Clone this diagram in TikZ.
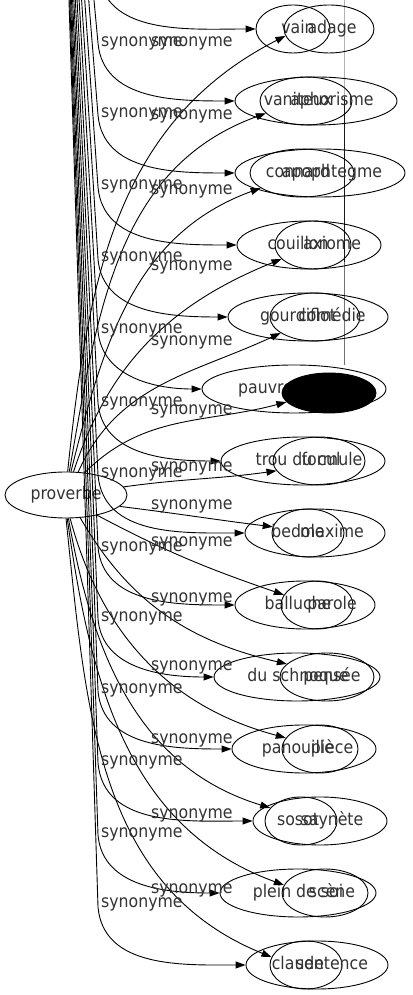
\documentclass[tikz,border=0pt]{standalone}
\usepackage{fontspec}
\setmainfont{DejaVu Sans Condensed}
\usetikzlibrary{shapes.geometric,arrows.meta}
\tikzset{
  word/.style={shape=ellipse,draw=black,line width=0.9pt,inner sep=0pt,minimum height=48pt},
  syn/.style={draw=black,line width=0.9pt,-{Triangle[length=10pt,width=7pt]}},
  lab/.style={anchor=west,inner sep=0pt,text=black!80,text height=13pt,text depth=4pt},
  every label/.style={inner sep=0pt,text=black!80,text height=13pt,text depth=4pt},
}
\begin{document}
\begin{tikzpicture}[x=1pt,y=1pt,font=\fontsize{17.5pt}{21pt}\selectfont]
\clip (0,0) rectangle (412,995);
\fill[white] (0,0) rectangle (412,995);
\draw[black!30] (344,995) -- (344,898);
\draw[black!90] (344,898) -- (344,733);
\draw[black!55] (344,733) -- (344,630);

\node[word,minimum width=122pt,minimum height=46pt,text=black!80,text height=13pt,text depth=4pt] (proverbe) at (66,500) {proverbe};

% first column
\node[word,minimum width=74pt,label={[xshift=5pt]center:vain}] (vain) at (293,966) {};
\node[word,minimum width=92pt,label={[xshift=-8pt]center:vaniteux}] (vaniteux) at (306,894) {};
\node[word,minimum width=104pt,label={[xshift=-4pt]center:connard}] (connard) at (302,822) {};
\node[word,minimum width=144pt,label={[xshift=-11pt]center:couillon}] (couillon) at (309,750) {};
\node[word,minimum width=160pt,label={[xshift=-10pt]center:gourdiflot}] (gourdiflot) at (308,678) {};
\node[word,minimum width=184pt,label={[xshift=4pt]center:pauvre d'esprit}] (pauvre) at (294,606) {};
\node[word,minimum width=164pt,label={[xshift=-5pt]center:trou du cul}] (troucul) at (303,534) {};
\node[word,minimum width=72pt,label={[xshift=-10pt]center:bedole}] (bedole) at (308,462) {};
\node[word,minimum width=140pt,label={[xshift=-7pt]center:balluche}] (balluche) at (305,390) {};
\node[word,minimum width=166pt,label={[xshift=1pt]center:du schnoque}] (schnoque) at (297,318) {};
\node[word,minimum width=144pt,label={[xshift=-6pt]center:panouille}] (panouille) at (304,246) {};
\node[word,minimum width=72pt,label={[xshift=-3pt]center:sosot}] (sosot) at (301,174) {};
\node[word,minimum width=156pt,label={center:plein de soi}] (pleinsoi) at (298,102) {};
\node[word,minimum width=72pt,label={[xshift=-8pt]center:claude}] (claude) at (306,30) {};

% second column
\node[word,minimum width=90pt,label={[xshift=3pt]center:adage}] (adage) at (329,966) {};
\node[word,minimum width=162pt,label={[xshift=16pt]center:aphorisme}] (aphorisme) at (316,894) {};
\node[word,minimum width=170pt,label={[xshift=12pt]center:apophtegme}] (apophtegme) at (320,822) {};
\node[word,minimum width=76pt,label={[xshift=19pt]center:axiome}] (axiome) at (313,750) {};
\node[word,minimum width=90pt,label={[xshift=17pt]center:comédie}] (comedie) at (315,678) {};
\node[word,fill=black,minimum width=94pt,minimum height=40pt] (dicton) at (329,602) {};
\node[word,minimum width=92pt,label={[xshift=13pt]center:formule}] (formule) at (319,534) {};
\node[word,minimum width=140pt,label={[xshift=17pt]center:maxime}] (maxime) at (315,462) {};
\node[word,minimum width=72pt,label={[xshift=15pt]center:parole}] (parole) at (317,390) {};
\node[word,minimum width=94pt,label={[xshift=5pt]center:pensée}] (pensee) at (327,318) {};
\node[word,minimum width=76pt,label={[xshift=12pt]center:pièce}] (piece) at (320,246) {};
\node[word,minimum width=134pt,label={[xshift=12pt]center:saynète}] (saynete) at (320,174) {};
\node[word,minimum width=86pt,label={[xshift=7pt]center:scène}] (scene) at (325,102) {};
\node[word,minimum width=142pt,label={[xshift=15pt]center:sentence}] (sentence) at (317,30) {};

% edges coming down from above
\coordinate (src) at (56,1400);
\foreach \i in {1,...,14}
  \coordinate (p\i) at (98,{1024-72*(\i-1)});
\foreach \i/\t in {1/vain,2/aphorisme,3/apophtegme,4/couillon,5/gourdiflot,6/pauvre,7/troucul,
    8/maxime,9/balluche,10/schnoque,11/panouille,12/saynete,13/pleinsoi,14/sentence}
  \draw[syn] (src) -- (p\i) to[out=-85,in=180] (\t.west);

% edges from proverbe
\draw[syn] (proverbe.86) to[out=84,in=-153] (adage.189);
\draw[syn] (proverbe.82) to[out=80,in=-160] (vaniteux.197);
\draw[syn] (proverbe.78) to[out=76,in=-160] (connard.200);
\draw[syn] (proverbe.72) to[out=72,in=-158] (axiome.204);
\draw[syn] (proverbe.62) to[out=66,in=-155] (comedie.205);
\draw[syn] (proverbe.50) to[out=45,in=-165] (dicton.192);
\draw[syn] (proverbe.8) to[out=8,in=188] (formule.193);
\draw[syn] (proverbe.-12) to[out=-7,in=173] (bedole.170);
\draw[syn] (proverbe.-33) to[out=-28,in=161] (parole.163);
\draw[syn] (proverbe.-58) to[out=-60,in=167] (pensee.162);
\draw[syn] (proverbe.-80) to[out=-75,in=165] (piece.162);
\draw[syn] (proverbe.-84) to[out=-80,in=163] (sosot.157);
\draw[syn] (proverbe.-87) to[out=-82,in=160] (scene.169);
\draw[syn] (proverbe.-90) to[out=-84,in=158] (claude.167);

% labels
\foreach \y [count=\i from 2] in {953,882,810,738,666,593,522,448,378,306,234,162,92}
  \node[lab] (da\i) at (101,\y) {synonyme};
\foreach \y [count=\i] in {953,880,805,729,654,585,528,490,453,397,329,256,181,106}
  \node[lab] (ra\i) at (151,\y) {synonyme};
\end{tikzpicture}
\end{document}
